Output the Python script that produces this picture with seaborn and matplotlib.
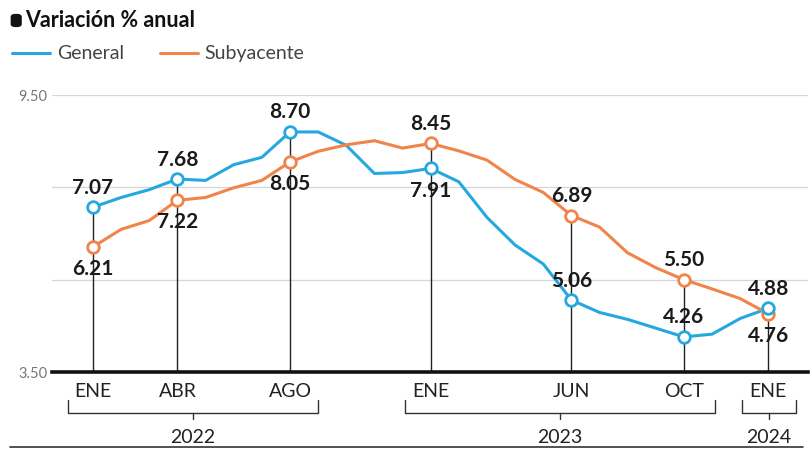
import pandas as pd
import matplotlib.pyplot as plt
import numpy as np
import seaborn as sns
from matplotlib.patches import FancyBboxPatch

# inflacion anual, ene 2022 - ene 2024
general = [7.07, 7.28, 7.45, 7.68, 7.65, 7.99, 8.15, 8.70, 8.70, 8.41, 7.80, 7.82,
           7.91, 7.62, 6.85, 6.25, 5.84, 5.06, 4.79, 4.64, 4.45, 4.26, 4.32, 4.66,
           4.88]
subyacente = [6.21, 6.59, 6.78, 7.22, 7.28, 7.49, 7.65, 8.05, 8.28, 8.42, 8.51, 8.35,
              8.45, 8.29, 8.09, 7.67, 7.39, 6.89, 6.64, 6.08, 5.76, 5.50, 5.30, 5.09,
              4.76]
meses = list(range(25))
destacados = [0, 3, 7, 12, 17, 21, 24]
etiquetas_mes = ['ENE', 'ABR', 'AGO', 'ENE', 'JUN', 'OCT', 'ENE']
# posicion de la etiqueta: 1 arriba, -1 abajo
pos_general = [1, 1, 1, -1, 1, 1, 1]
pos_subyacente = [-1, -1, -1, 1, 1, 1, -1]
anios = ['2022', '2023', '2024']
anio_rango = [(-0.9, 8.0), (11.1, 22.1), (23.05, 25.0)]

azul = '#25a8df'
naranja = '#f0844a'

df = pd.DataFrame({'mes': meses * 2,
                   'valor': general + subyacente,
                   'serie': ['General'] * 25 + ['Subyacente'] * 25})

sns.set_style('white')
plt.rcParams['font.family'] = ['Lato', 'DejaVu Sans']

fig = plt.figure(figsize=(8.11, 4.55), dpi=100)
ax = fig.add_axes([0.064, 0.1824, 0.932, 0.6088])

for g in [9.5, 7.5, 5.5]:
    ax.axhline(g, color='#d6d6d6', lw=0.9, zorder=0)

# lineas verticales en los meses destacados
for m in destacados:
    top = max(general[m], subyacente[m])
    ax.plot([m, m], [3.5, top], color='#222222', lw=1.0, zorder=1)

sns.lineplot(data=df, x='mes', y='valor', hue='serie',
             palette={'General': azul, 'Subyacente': naranja},
             lw=2.2, legend=False, ax=ax, zorder=3)

for serie, col in [(subyacente, naranja), (general, azul)]:
    ax.scatter(destacados, [serie[m] for m in destacados], s=70,
               facecolor='white', edgecolor=col, linewidth=2, zorder=5)

def etiqueta(m, v, p):
    off = 14 if p > 0 else -16
    ax.annotate(f'{v:.2f}', (m, v), xytext=(0, off), textcoords='offset points',
                ha='center', va='center', fontsize=15, fontweight='bold',
                color='#1a1a1a', zorder=6)

for i, m in enumerate(destacados):
    etiqueta(m, general[m], pos_general[i])
    etiqueta(m, subyacente[m], pos_subyacente[i])

ax.set_xlim(-1.46, 25.4)
ax.set_ylim(3.5, 9.5)
ax.set_yticks([3.5, 9.5])
ax.set_yticklabels(['3.50', '9.50'])
ax.tick_params(axis='y', length=0, pad=3, labelsize=10.5, labelcolor='#777777')
ax.set_xticks(destacados)
ax.set_xticklabels(etiquetas_mes)
ax.tick_params(axis='x', length=0, pad=8, labelsize=14, labelcolor='#222222')
ax.set_xlabel('')
ax.set_ylabel('')
for s in ['top', 'right', 'left']:
    ax.spines[s].set_visible(False)
ax.spines['bottom'].set_color('#111111')
ax.spines['bottom'].set_linewidth(2.6)

# llaves de los anios
trans = ax.get_xaxis_transform()
for anio, (x0, x1) in zip(anios, anio_rango):
    ytop, ybot = -0.10, -0.148
    ax.plot([x0, x0, x1, x1], [ytop, ybot, ybot, ytop], color='#333333', lw=1.0,
            transform=trans, clip_on=False)
    xc = (x0 + x1) / 2
    ax.plot([xc, xc], [ybot, ybot - 0.022], color='#333333', lw=1.0,
            transform=trans, clip_on=False)
    ax.text(xc, -0.235, anio, transform=trans, ha='center', va='center',
            fontsize=14, color='#222222')

fig.add_artist(plt.Line2D([0.012, 0.99], [0.018, 0.018], color='#333333', lw=1.2))

# titulo y leyenda
fig.text(0.031, 0.955, 'Variación % anual', fontsize=15.5, fontweight='bold',
         ha='left', va='center', color='#111111')
fig.add_artist(FancyBboxPatch((0.016, 0.944), 0.008, 0.022,
                              boxstyle='round,pad=0.002,rounding_size=0.005',
                              color='#111111', transform=fig.transFigure))
fig.add_artist(plt.Line2D([0.015, 0.062], [0.883, 0.883], color=azul, lw=2.2))
fig.text(0.071, 0.883, 'General', fontsize=14, ha='left', va='center',
         color='#444444')
fig.add_artist(plt.Line2D([0.197, 0.244], [0.883, 0.883], color=naranja, lw=2.2))
fig.text(0.252, 0.883, 'Subyacente', fontsize=14, ha='left', va='center',
         color='#444444')

fig.savefig('out.png', dpi=100)
